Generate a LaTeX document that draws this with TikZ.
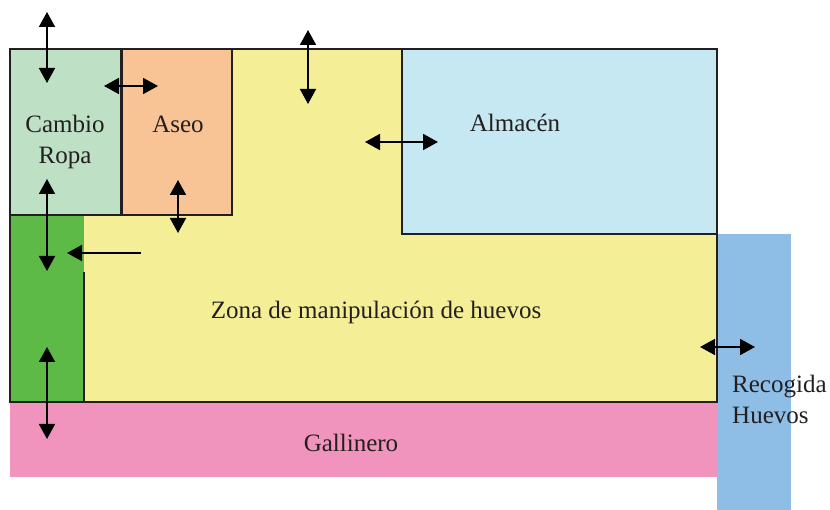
\documentclass[tikz,border=0pt]{standalone}
\usepackage{fontspec}
\setmainfont{Liberation Serif}
\usetikzlibrary{arrows.meta}
\definecolor{amarillo}{RGB}{244,238,150}
\definecolor{verdeclaro}{RGB}{190,225,197}
\definecolor{naranja}{RGB}{248,196,150}
\definecolor{celeste}{RGB}{198,232,242}
\definecolor{verde}{RGB}{94,186,70}
\definecolor{rosa}{RGB}{240,148,190}
\definecolor{azul}{RGB}{142,190,230}
\definecolor{tinta}{RGB}{35,31,32}

\begin{document}
\begin{tikzpicture}[x=1pt,y=-1pt,
  muro/.style={draw=tinta,line width=1.3pt},
  rotulo/.style={text=tinta,font=\rmfamily\fontsize{25}{31}\selectfont,inner sep=0pt},
  paso/.style={draw=black,line width=1.8pt,{Triangle[length=15pt,width=16pt]}-{Triangle[length=15pt,width=16pt]}},
  entrada/.style={draw=black,line width=1.8pt,-{Triangle[length=15pt,width=16pt]}}]
\useasboundingbox (0,0) rectangle (830,510);
% Plano de la sala de manipulación
\fill[rosa] (10,402) rectangle (717,477);
\fill[azul] (717,234) rectangle (791,510);
\filldraw[fill=amarillo,muro] (10,49) rectangle (717,402);
\filldraw[fill=celeste,muro] (402,49) rectangle (717,234);
\filldraw[fill=verdeclaro,muro] (10,49) rectangle (121,215);
\filldraw[fill=naranja,muro] (122,49) rectangle (232,215);
\fill[verde] (10,215) rectangle (84,402);
\draw[muro] (84,272) -- (84,402) -- (10,402) -- (10,215) -- (121,215);
% Rótulos
\node[rotulo,align=center] (cambio) at (65,142) {Cambio\\Ropa};
\node[rotulo,anchor=base] (aseo) at (178,133) {Aseo};
\node[rotulo,anchor=base] (almacen) at (515,132) {Almacén};
\node[rotulo,anchor=base] (zona) at (376,319) {Zona de manipulación de huevos};
\node[rotulo,anchor=base] (gallinero) at (351,451) {Gallinero};
\node[rotulo,align=left,anchor=north west] (recogida) at (732,375) {Recogida\\Huevos};
% Accesos
\coordinate (a1) at (47,12);  \coordinate (b1) at (47,83);
\coordinate (a2) at (104,86); \coordinate (b2) at (158,86);
\coordinate (a3) at (308,30); \coordinate (b3) at (308,104);
\coordinate (a4) at (365,142); \coordinate (b4) at (438,142);
\coordinate (a5) at (178,180); \coordinate (b5) at (178,233);
\coordinate (a6) at (47,179); \coordinate (b6) at (47,271);
\coordinate (a7) at (141,253); \coordinate (b7) at (67,253);
\coordinate (a8) at (47,347); \coordinate (b8) at (47,439);
\coordinate (a9) at (700,347); \coordinate (b9) at (755,347);
\foreach \i in {1,2,3,4,5,6,8,9}
  \draw[paso] (a\i) -- (b\i);
\draw[entrada] (a7) -- (b7);
\end{tikzpicture}
\end{document}
